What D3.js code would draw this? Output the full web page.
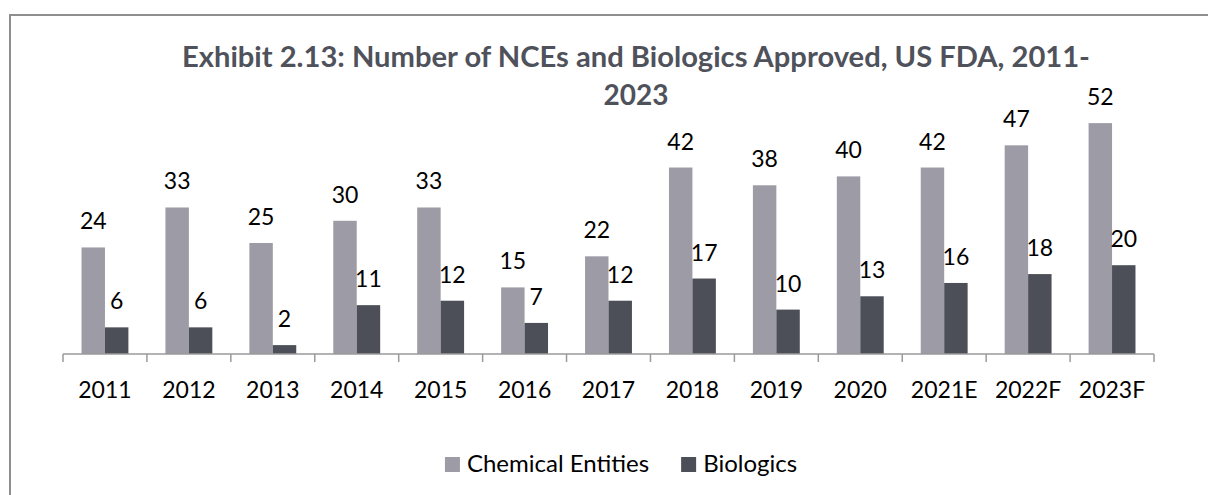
<!DOCTYPE html>
<html>
<head>
<meta charset="utf-8">
<script src="https://d3js.org/d3.v7.min.js"></script>
<style>
  body { margin: 0; background: #fff; }
  svg text { font-family: Lato, "Open Sans", sans-serif; }
  .frame { fill: none; stroke: #8e8e8e; stroke-width: 2; }
  .title { font-weight: bold; font-size: 28px; fill: #4f515b; }
  .lbl { font-size: 23px; fill: #000; }
  .leg { font-size: 24px; fill: #000; }
  .axis-line { stroke: #9a9a9a; stroke-width: 1.5; }
</style>
</head>
<body>
<div id="chart"></div>
<script>
// chart values
var years = ["2011", "2012", "2013", "2014", "2015", "2016", "2017", "2018", "2019", "2020", "2021E", "2022F", "2023F"];
var chemical = [24, 33, 25, 30, 33, 15, 22, 42, 38, 40, 42, 47, 52];
var biologics = [6, 6, 2, 11, 12, 7, 12, 17, 10, 13, 16, 18, 20];
var seriesNames = ["Chemical Entities", "Biologics"];
var seriesColors = ["#9d9ca6", "#4d4f58"];
var titleLines = ["Exhibit 2.13: Number of NCEs and Biologics Approved, US FDA, 2011-", "2023"];

var width = 1208,
    height = 495;

var svg = d3.select("#chart").append("svg")
    .attr("width", width)
    .attr("height", height);

// border (only left and top visible in the picture)
svg.append("rect")
    .attr("class", "frame")
    .attr("x", 10)
    .attr("y", 15)
    .attr("width", 1300)
    .attr("height", 600);

// title
var tx = 636;
svg.append("text").attr("class", "title")
    .attr("x", tx).attr("y", 67)
    .attr("text-anchor", "middle")
    .attr("textLength", 908)
    .attr("lengthAdjust", "spacingAndGlyphs")
    .text(titleLines[0]);
svg.append("text").attr("class", "title")
    .attr("x", tx).attr("y", 105)
    .attr("text-anchor", "middle")
    .text(titleLines[1]);

// scales
var x0 = d3.scaleBand()
    .domain(years)
    .range([63, 1154])
    .padding(0);

var x1 = d3.scaleBand()
    .domain(seriesNames)
    .range([0, x0.bandwidth()])
    .paddingInner(0)
    .paddingOuter(0.79);

var y = d3.scaleLinear()
    .domain([0, 60])
    .range([354, 87.6]);

var color = d3.scaleOrdinal().domain(seriesNames).range(seriesColors);

var rows = years.map(function(yr, i) {
  return { year: yr, values: [
    { name: seriesNames[0], value: chemical[i] },
    { name: seriesNames[1], value: biologics[i] }
  ]};
});

var groups = svg.append("g").selectAll("g")
    .data(rows)
  .enter().append("g")
    .attr("transform", function(d) { return "translate(" + x0(d.year) + ",0)"; });

groups.selectAll("rect")
    .data(function(d) { return d.values; })
  .enter().append("rect")
    .attr("x", function(d) { return x1(d.name); })
    .attr("y", function(d) { return y(d.value); })
    .attr("width", x1.bandwidth())
    .attr("height", function(d) { return y(0) - y(d.value); })
    .attr("fill", function(d) { return color(d.name); });

// data labels
groups.selectAll("text")
    .data(function(d) { return d.values; })
  .enter().append("text")
    .attr("class", "lbl")
    .attr("x", function(d) { return x1(d.name) + x1.bandwidth() / 2; })
    .attr("y", function(d) { return y(d.value) - 18; })
    .attr("text-anchor", "middle")
    .text(function(d) { return d.value; });

// x axis: labels from d3 axis, ticks at band edges
var xAxis = svg.append("g")
    .attr("transform", "translate(0," + y(0) + ")")
    .call(d3.axisBottom(x0).tickSize(0));
xAxis.select(".domain").remove();
xAxis.selectAll("text")
    .attr("class", "lbl")
    .attr("dy", null)
    .attr("y", 44)
    .style("font-size", "23px")
    .style("font-family", "Lato, 'Open Sans', sans-serif")
    .attr("fill", "#000");

svg.append("line")
    .attr("class", "axis-line")
    .attr("x1", x0.range()[0]).attr("x2", x0.range()[1])
    .attr("y1", y(0)).attr("y2", y(0));

svg.append("g").selectAll("line")
    .data(d3.range(years.length + 1))
  .enter().append("line")
    .attr("class", "axis-line")
    .attr("x1", function(i) { return x0.range()[0] + i * x0.step(); })
    .attr("x2", function(i) { return x0.range()[0] + i * x0.step(); })
    .attr("y1", y(0))
    .attr("y2", y(0) + 8);

// legend
var legend = svg.append("g");
var lx = 0;
seriesNames.forEach(function(name, i) {
  var item = legend.append("g").attr("transform", "translate(" + lx + ",0)");
  item.append("rect")
    .attr("x", 0).attr("y", 457)
    .attr("width", 15).attr("height", 15)
    .attr("fill", color(name));
  var t = item.append("text")
    .attr("class", "leg")
    .attr("x", 22).attr("y", 472)
    .text(name);
  lx += 22 + t.node().getComputedTextLength() + 32;
});
lx -= 32;
legend.attr("transform", "translate(" + (621 - lx / 2) + ",0)");
</script>
</body>
</html>
